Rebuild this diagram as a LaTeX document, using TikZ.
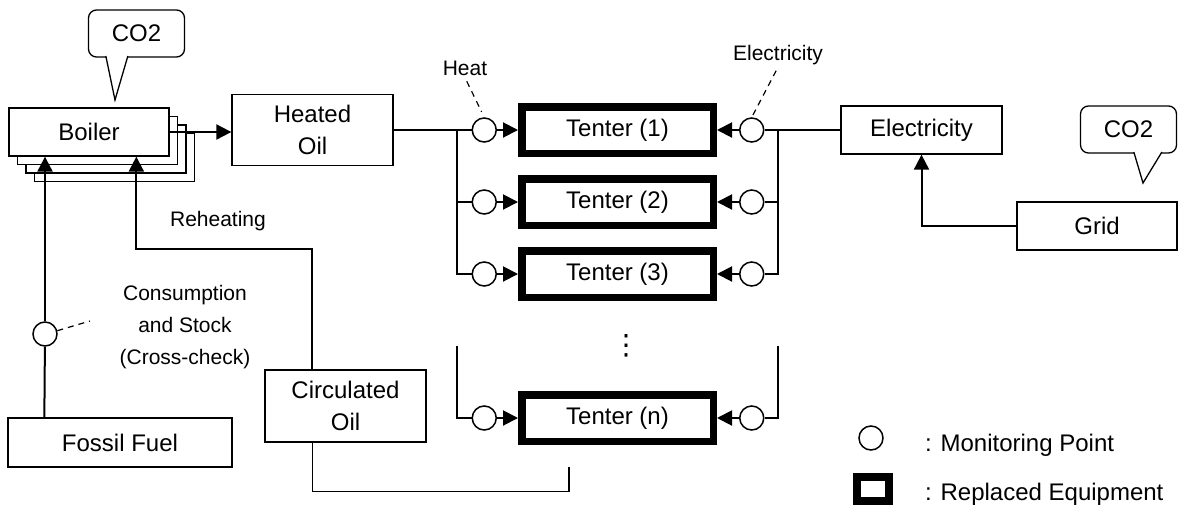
\documentclass[tikz,border=0pt]{standalone}
\usepackage{fontspec}
\setmainfont{Liberation Sans}
\newfontfamily\dotsfont{DejaVu Sans}
\usetikzlibrary{arrows.meta,positioning}

\begin{document}
\begin{tikzpicture}[
    x=0.5pt, y=-0.5pt,
    every node/.style={font=\fontsize{12}{16}\selectfont},
    box/.style={draw, line width=0.65pt, fill=white, align=center, inner sep=0pt},
    bubble/.style={draw, line width=0.65pt, fill=white, rounded corners=4pt, minimum width=48pt, minimum height=23.5pt, inner sep=0pt},
    tenter/.style={draw, line width=3.75pt, minimum width=95.75pt, minimum height=23.25pt, inner sep=0pt},
    meter/.style={draw, circle, line width=0.75pt, minimum size=12pt, inner sep=0pt},
    label/.style={font=\fontsize{10.5}{16}\selectfont, align=center, inner sep=1pt},
    flow/.style={-{Triangle[length=7.5pt,width=7.5pt]}, line width=1pt},
    link/.style={line width=1pt},
    ret/.style={line width=0.7pt},
    note/.style={line width=0.6pt, dash pattern=on 3pt off 2.5pt}
]
\useasboundingbox (0,0) rectangle (1178,509);

% boiler with its stacked units
\node[box, minimum width=80pt, minimum height=24pt] (boiler3) at (114.5,157.5) {};
\node[box, minimum width=80pt, minimum height=24pt] (boiler2) at (106,149) {};
\node[box, minimum width=80pt, minimum height=24pt] (boiler1) at (97.5,140.5) {};
\node[box, minimum width=80pt, minimum height=24pt] (boiler) at (89,132) {Boiler};

\node[box, minimum width=80.5pt, minimum height=35.5pt] (oil) at (312.5,130) {Heated\\Oil};
\node[box, minimum width=80.5pt, minimum height=36pt] (circ) at (345.5,406) {Circulated\\Oil};
\node[box, minimum width=112pt, minimum height=24.5pt] (fossil) at (120,442.5) {Fossil Fuel};
\node[box, minimum width=80.5pt, minimum height=24pt] (elec) at (921.5,130) {Electricity};
\node[box, minimum width=80pt, minimum height=24pt] (grid) at (1097,226) {Grid};

% tenters
\node[tenter] (t1) at (617.5,130) {Tenter (1)};
\node[tenter, below=9pt of t1] (t2) {Tenter (2)};
\node[tenter, below=9pt of t2] (t3) {Tenter (3)};
\node[font=\dotsfont\fontsize{14}{16}\selectfont, inner sep=0pt] (dots) at (626,346) {⋮};
\node[tenter] (tn) at (617.5,418) {Tenter (n)};

% monitoring points
\foreach \i in {1,2,3,n} {
  \node[meter, left=10.5pt of t\i] (h\i) {};
  \node[meter, right=11pt of t\i] (e\i) {};
}
\node[meter] (fm) at (45,334) {};

% labels
\node[label] (heatlbl) at (465,68) {Heat};
\node[label] (eleclbl) at (778,55) {Electricity};
\node[label] (reheat) at (218,221) {Reheating};
\node[label] (cons) at (185,327) {Consumption\\and Stock\\(Cross-check)};

% CO2 callouts
\node[bubble] (co2a) at (136.5,33.5) {CO2};
\coordinate (co2atip) at (115,100);
\filldraw[fill=white, line width=0.65pt] ([xshift=9pt,yshift=0.8pt]co2a.south west) -- (co2atip) -- ([xshift=20pt,yshift=0.8pt]co2a.south west);
\node[bubble] (co2b) at (1128.5,129.5) {CO2};
\coordinate (co2btip) at (1143,183);
\filldraw[fill=white, line width=0.65pt] ([xshift=27pt,yshift=0.8pt]co2b.south west) -- (co2btip) -- ([xshift=41pt,yshift=0.8pt]co2b.south west);

% heat side
\coordinate (hsplit) at (457,130);
\coordinate (hgap) at (457,346);
\draw[flow] (boiler.east) -- (boiler.east -| oil.west);
\draw[link] (oil.east) -- (h1);
\draw[link] (hsplit) |- (h3);
\draw[link] (hsplit |- h2) -- (h2);
\draw[link] (hgap) |- (hn);

% electricity side
\coordinate (esplit) at (778,130);
\coordinate (egap) at (778,346);
\draw[link] (elec) -- (e1);
\draw[link] (esplit) |- (e3);
\draw[link] (esplit |- e2) -- (e2);
\draw[link] (egap) |- (en);
\draw[flow] (grid.west) -| (elec.south);

\foreach \i in {1,2,3,n} {
  \draw[flow] (h\i) -- (t\i);
  \draw[flow] (e\i) -- (t\i);
}

% fuel and oil return
\draw[link] ([xshift=18.5pt]fossil.north west) -- (fm);
\draw[flow] (fm) -- (fm |- boiler.south);
\draw[flow] ([xshift=24pt]circ.north west) -- ++(0,-120) -| ([xshift=64pt]boiler.south west);
\coordinate (retend) at (569,467);
\draw[ret] ([xshift=24pt]circ.south west) -- ++(0,49) -| (retend);

% dashed pointers
\coordinate (consend) at (90,321);
\draw[note] (fm.15) -- (consend);
\draw[note, shorten <=2pt, shorten >=3pt] (heatlbl.south) -- (h1.north);
\draw[note, shorten <=2pt, shorten >=0pt] (eleclbl.south) -- (e1.north);

% legend
\node[meter] (keymeter) at (871,438) {};
\node[anchor=west] (keymeterlbl) at (918,445) {: Monitoring Point};
\node[draw, line width=4pt, minimum width=16pt, minimum height=12pt, inner sep=0pt] (keytenter) at (873,489) {};
\node[anchor=west] (keytenterlbl) at (918,494) {: Replaced Equipment};
\end{tikzpicture}
\end{document}
